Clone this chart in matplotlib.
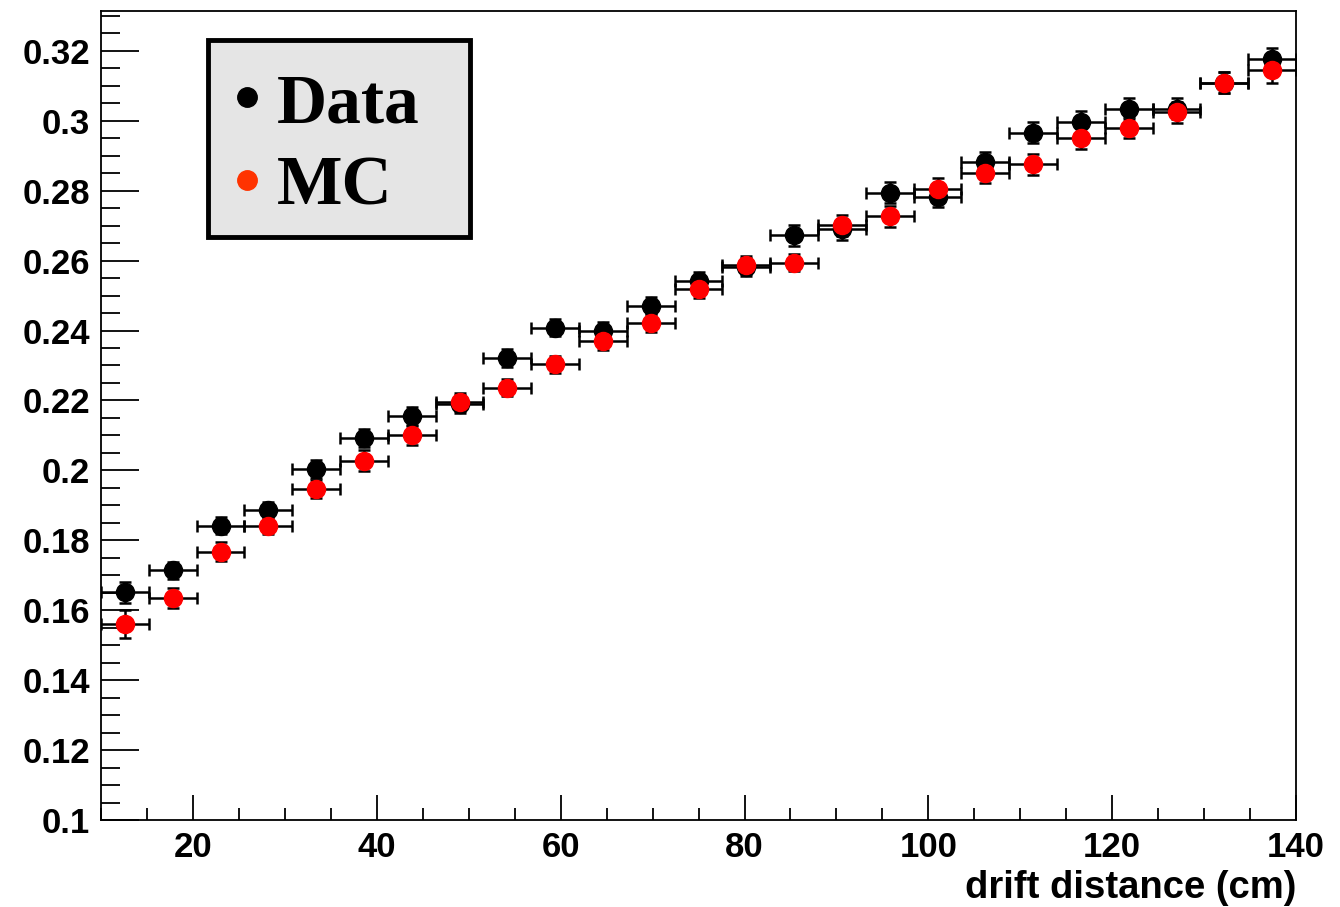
import matplotlib
matplotlib.use("Agg")
import matplotlib.pyplot as plt
from matplotlib.patches import Rectangle
from matplotlib.ticker import MultipleLocator

# drift distance bin centres (cm), bin half width
drift = [12.6, 17.8, 23.0, 28.2, 33.4, 38.6, 43.8, 49.0, 54.2, 59.4, 64.6, 69.8, 75.0,
         80.2, 85.4, 90.6, 95.8, 101.0, 106.2, 111.4, 116.6, 121.8, 127.0, 132.2, 137.4]
half_width = 2.6

data_y = [0.1652, 0.1714, 0.1842, 0.1886, 0.2004, 0.2093, 0.2156, 0.2190, 0.2322, 0.2408,
          0.2398, 0.2471, 0.2541, 0.2582, 0.2673, 0.2689, 0.2794, 0.2783, 0.2882, 0.2966,
          0.2997, 0.3034, 0.3035, 0.3109, 0.3177]
data_err = [0.0030, 0.0025, 0.0025, 0.0025, 0.0025, 0.0025, 0.0025, 0.0025, 0.0025, 0.0025,
            0.0025, 0.0025, 0.0025, 0.0025, 0.0030, 0.0030, 0.0030, 0.0030, 0.0030, 0.0030,
            0.0030, 0.0030, 0.0030, 0.0030, 0.0030]

mc_y = [0.1561, 0.1635, 0.1768, 0.1842, 0.1947, 0.2028, 0.2100, 0.2195, 0.2237, 0.2303,
        0.2370, 0.2421, 0.2519, 0.2587, 0.2594, 0.2701, 0.2727, 0.2805, 0.2851, 0.2875,
        0.2950, 0.2980, 0.3024, 0.3109, 0.3145]
mc_err = [0.0039, 0.0030, 0.0027, 0.0025, 0.0025, 0.0030, 0.0028, 0.0025, 0.0025, 0.0025,
          0.0025, 0.0025, 0.0025, 0.0025, 0.0025, 0.0030, 0.0030, 0.0030, 0.0030, 0.0030,
          0.0030, 0.0030, 0.0030, 0.0030, 0.0037]

fig = plt.figure(figsize=(13.4, 9.07), dpi=100)
ax = fig.add_axes([0.0754, 0.0959, 0.8918, 0.892])

eb = dict(fmt='o', markersize=13, ecolor='black', elinewidth=1.8, capsize=4.5,
          capthick=1.8)
ax.errorbar(drift, data_y, xerr=half_width, yerr=data_err, color='black',
            markeredgecolor='black', zorder=3, **eb)
ax.errorbar(drift, mc_y, xerr=half_width, yerr=mc_err, color='red',
            markeredgecolor='red', zorder=4, **eb)

ax.set_xlim(10, 140)
ax.set_ylim(0.1, 0.3314)

ax.xaxis.set_major_locator(MultipleLocator(20))
ax.xaxis.set_minor_locator(MultipleLocator(5))
ax.yaxis.set_major_locator(MultipleLocator(0.02))
ax.yaxis.set_minor_locator(MultipleLocator(0.005))
ax.yaxis.set_major_formatter(plt.FuncFormatter(lambda v, p: f"{v:.2f}".rstrip('0')))

tick_font = dict(family='Liberation Sans', weight='bold', size=25)
ax.tick_params(axis='x', which='major', direction='in', length=18, width=1.3, pad=8)
ax.tick_params(axis='x', which='minor', direction='in', length=9, width=1.3)
ax.tick_params(axis='y', which='major', direction='in', length=27, width=1.3, pad=8)
ax.tick_params(axis='y', which='minor', direction='in', length=13.5, width=1.3)
for lab in ax.get_xticklabels() + ax.get_yticklabels():
    lab.set_fontproperties(tick_font)
for sp in ax.spines.values():
    sp.set_linewidth(1.3)

ax.set_xlabel('drift distance (cm)', loc='right', labelpad=4,
              fontdict=dict(family='Liberation Sans', weight='bold', size=27.5))

# legend box
ax.add_patch(Rectangle((0.0895, 0.721), 0.2195, 0.243, transform=ax.transAxes,
                       facecolor='#e5e5e5', edgecolor='black', linewidth=3.5, zorder=5))
leg_font = dict(family='Liberation Serif', weight='bold', size=50)
ax.plot([0.122], [0.8937], 'o', color='black', markersize=14, transform=ax.transAxes, zorder=6)
ax.plot([0.122], [0.791], 'o', color='#ff3300', markersize=14, transform=ax.transAxes, zorder=6)
ax.text(0.147, 0.8616, 'Data', transform=ax.transAxes, va='baseline', zorder=6, **leg_font)
ax.text(0.147, 0.7614, 'MC', transform=ax.transAxes, va='baseline', zorder=6, **leg_font)

fig.savefig('out.png', dpi=100)
